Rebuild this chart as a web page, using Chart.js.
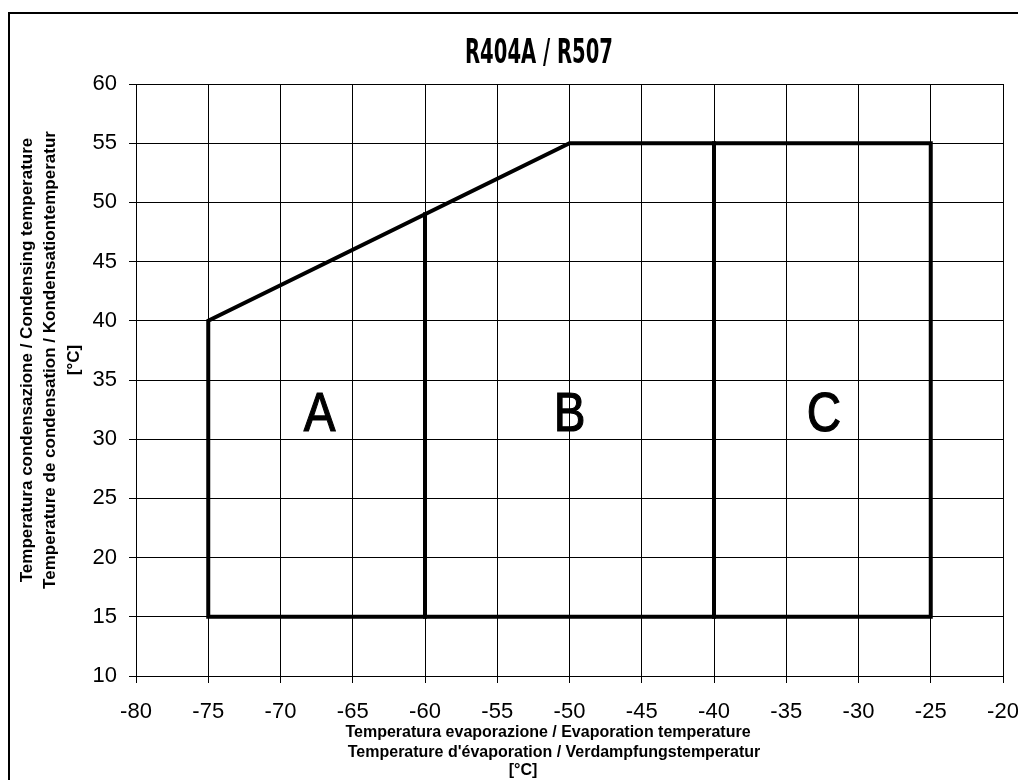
<!DOCTYPE html>
<html>
<head>
<meta charset="utf-8">
<script src="https://cdn.jsdelivr.net/npm/chart.js@4/dist/chart.umd.min.js"></script>
<style>
  html, body { margin: 0; padding: 0; background: #fff; }
  #wrap { width: 1018px; height: 780px; overflow: hidden; position: relative; background: #fff; }
  canvas { display: block; }
</style>
</head>
<body>
<div id="wrap"><canvas id="c" width="1040" height="780"></canvas></div>
<script>
// ---- data ----
const chartTitle = 'R404A / R507';
const xTitleLines = [
  'Temperatura evaporazione / Evaporation temperature',
  "Temperature d'évaporation / Verdampfungstemperatur",
  '[°C]'
];
const yTitleLines = [
  'Temperatura condensazione / Condensing temperature',
  'Temperature de condensation / Kondensationtemperatur',
  '[°C]'
];
// operating envelope outline
const envelopeX = [-75, -75, -50, -25, -25, -75];
const envelopeY = [15, 40, 55, 55, 15, 15];
// divider between zone A and B
const dividerAX = [-60, -60];
const dividerAY = [15, 49];
// divider between zone B and C
const dividerBX = [-40, -40];
const dividerBY = [15, 55];
// zone labels
const zoneNames = ['A', 'B', 'C'];
const zoneX = [-67.3, -50, -32.4];
const zoneY = [32.2, 32.2, 32.2];
// axis ranges
const xMin = -80, xMax = -20, xStep = 5;
const yMin = 10, yMax = 60, yStep = 5;

const toPts = (xs, ys) => xs.map((x, i) => ({ x: x, y: ys[i] }));

const lineStyle = {
  showLine: true, pointRadius: 0, borderColor: '#000', borderWidth: 4,
  tension: 0, borderJoinStyle: 'miter', borderCapStyle: 'square', fill: false
};

const decor = {
  id: 'decor',
  beforeDraw(chart) {
    const ctx = chart.ctx;
    ctx.save();
    ctx.fillStyle = '#fff';
    ctx.fillRect(0, 0, chart.width, chart.height);
    ctx.restore();
  },
  afterDraw(chart) {
    const ctx = chart.ctx;
    const xs = chart.scales.x, ys = chart.scales.y;
    ctx.save();
    // outer frame
    ctx.strokeStyle = '#000';
    ctx.lineWidth = 2;
    ctx.strokeRect(9, 13, 1200, 1000);
    // main title (condensed bold)
    ctx.fillStyle = '#000';
    ctx.font = 'bold 33px "Liberation Sans Narrow", "DejaVu Sans Condensed", "Liberation Sans", sans-serif';
    ctx.textAlign = 'center';
    ctx.textBaseline = 'alphabetic';
    const tw = ctx.measureText(chartTitle).width;
    ctx.save();
    ctx.translate(539, 63);
    ctx.scale(148 / tw, 1);
    ctx.fillText(chartTitle, 0, 0);
    ctx.restore();
    // zone letters
    ctx.font = '56px "Liberation Sans", Arial, sans-serif';
    ctx.textAlign = 'center';
    ctx.textBaseline = 'middle';
    zoneNames.forEach((n, i) => {
      const px = xs.getPixelForValue(zoneX[i]);
      const py = ys.getPixelForValue(zoneY[i]);
      ctx.save();
      ctx.translate(px, py + 2);
      ctx.scale(0.85, 1);
      ctx.lineWidth = 1.2;
      ctx.strokeStyle = '#000';
      ctx.fillText(n, 0, 0);
      ctx.strokeText(n, 0, 0);
      ctx.restore();
    });
    // x axis title
    ctx.font = 'bold 16px "Liberation Sans", Arial, sans-serif';
    ctx.textAlign = 'center';
    ctx.textBaseline = 'middle';
    const xCenters = [548, 554, 523];
    const xRows = [733, 753, 771];
    xTitleLines.forEach((t, i) => ctx.fillText(t, xCenters[i], xRows[i]));
    // y axis title
    ctx.font = 'bold 17px "Liberation Sans", Arial, sans-serif';
    const yCols = [27, 50, 74];
    yTitleLines.forEach((t, i) => {
      ctx.save();
      ctx.translate(yCols[i], 360);
      ctx.rotate(-Math.PI / 2);
      ctx.fillText(t, 0, 0);
      ctx.restore();
    });
    ctx.restore();
  }
};

new Chart(document.getElementById('c'), {
  type: 'scatter',
  data: {
    datasets: [
      Object.assign({ label: 'envelope', data: toPts(envelopeX, envelopeY) }, lineStyle),
      Object.assign({ label: 'A|B', data: toPts(dividerAX, dividerAY) }, lineStyle),
      Object.assign({ label: 'B|C', data: toPts(dividerBX, dividerBY) }, lineStyle)
    ]
  },
  options: {
    responsive: false,
    animation: false,
    layout: { padding: { left: 0, top: 84, right: 37, bottom: 0 } },
    plugins: { legend: { display: false }, tooltip: { enabled: false }, title: { display: false } },
    scales: {
      x: {
        type: 'linear', min: xMin, max: xMax,
        ticks: { stepSize: xStep, color: '#000', padding: 16, maxRotation: 0,
                 font: { family: '"Liberation Sans", Arial, sans-serif', size: 22 } },
        grid: { color: '#000', lineWidth: 1, tickLength: 7, tickColor: '#000' },
        border: { color: '#000', width: 1 },
        afterFit(s) { s.height = 104; }
      },
      y: {
        type: 'linear', min: yMin, max: yMax,
        ticks: { stepSize: yStep, color: '#000', padding: 12,
                 font: { family: '"Liberation Sans", Arial, sans-serif', size: 22 } },
        grid: { color: '#000', lineWidth: 1, tickLength: 7, tickColor: '#000' },
        border: { color: '#000', width: 1 },
        afterFit(s) { s.width = 136; }
      }
    }
  },
  plugins: [decor]
});
</script>
</body>
</html>
